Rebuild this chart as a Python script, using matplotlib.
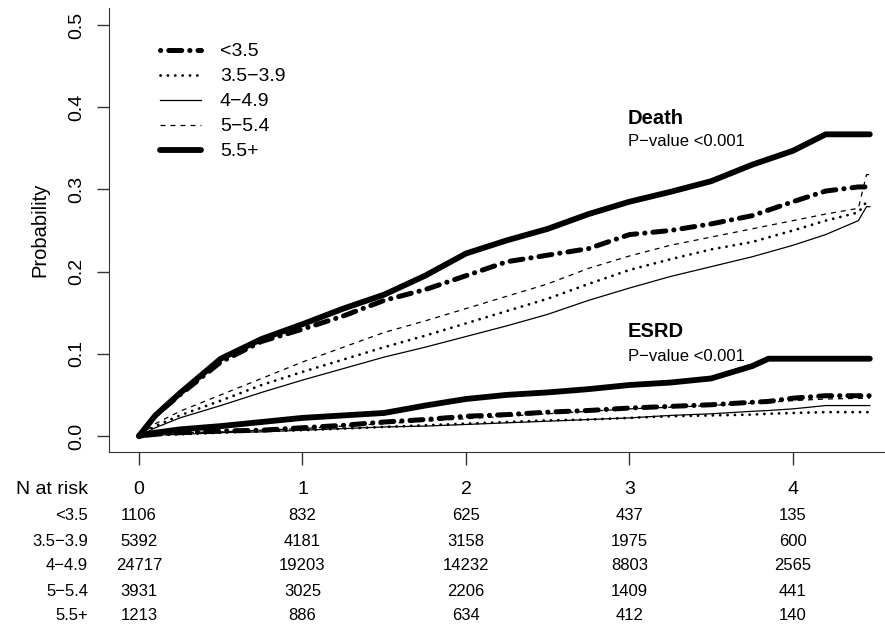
import matplotlib
matplotlib.use('Agg')
import matplotlib.pyplot as plt
import matplotlib.transforms as mtransforms

plt.rcParams['font.family'] = ['Liberation Sans', 'DejaVu Sans']

groups = ['<3.5', '3.5\u22123.9', '4\u22124.9', '5\u22125.4', '5.5+']

# cumulative incidence of death
t_death = [0, 0.1, 0.25, 0.5, 0.75, 1.0, 1.25, 1.5, 1.75, 2.0, 2.25, 2.5,
           2.75, 3.0, 3.25, 3.5, 3.75, 4.0, 4.2, 4.4, 4.45, 4.47]
death = {
    '<3.5':   [0, 0.025, 0.050, 0.090, 0.115, 0.130, 0.146, 0.165, 0.178, 0.195, 0.212, 0.220,
               0.228, 0.245, 0.250, 0.258, 0.268, 0.285, 0.298, 0.303, 0.303, 0.303],
    '3.5\u22123.9': [0, 0.012, 0.025, 0.043, 0.062, 0.078, 0.093, 0.108, 0.122, 0.137, 0.152, 0.167,
               0.185, 0.202, 0.215, 0.227, 0.236, 0.250, 0.262, 0.272, 0.285, 0.285],
    '4\u22124.9': [0, 0.010, 0.022, 0.037, 0.053, 0.068, 0.082, 0.096, 0.108, 0.121, 0.134, 0.148,
               0.165, 0.180, 0.194, 0.206, 0.218, 0.232, 0.245, 0.262, 0.279, 0.279],
    '5\u22125.4': [0, 0.015, 0.030, 0.050, 0.070, 0.090, 0.108, 0.126, 0.140, 0.155, 0.170, 0.185,
               0.204, 0.219, 0.232, 0.242, 0.252, 0.262, 0.270, 0.277, 0.318, 0.318],
    '5.5+':   [0, 0.025, 0.052, 0.094, 0.118, 0.136, 0.155, 0.172, 0.195, 0.222, 0.238, 0.252,
               0.270, 0.285, 0.297, 0.310, 0.330, 0.347, 0.367, 0.367, 0.367, 0.367],
}

# cumulative incidence of ESRD
t_esrd = [0, 0.1, 0.25, 0.5, 0.75, 1.0, 1.25, 1.5, 1.75, 2.0, 2.25, 2.5,
          2.75, 3.0, 3.25, 3.5, 3.75, 3.85, 4.0, 4.2, 4.47]
esrd = {
    '<3.5':   [0, 0.002, 0.004, 0.006, 0.007, 0.010, 0.013, 0.017, 0.020, 0.024, 0.026, 0.029,
               0.031, 0.034, 0.036, 0.038, 0.041, 0.042, 0.046, 0.049, 0.049],
    '3.5\u22123.9': [0, 0.001, 0.002, 0.004, 0.006, 0.007, 0.009, 0.011, 0.013, 0.015, 0.017, 0.019,
               0.020, 0.022, 0.024, 0.025, 0.026, 0.027, 0.028, 0.029, 0.029],
    '4\u22124.9': [0, 0.001, 0.002, 0.004, 0.005, 0.007, 0.009, 0.011, 0.012, 0.014, 0.016, 0.018,
               0.020, 0.022, 0.025, 0.027, 0.030, 0.031, 0.033, 0.037, 0.037],
    '5\u22125.4': [0, 0.002, 0.004, 0.005, 0.007, 0.009, 0.012, 0.015, 0.018, 0.021, 0.024, 0.027,
               0.030, 0.033, 0.035, 0.037, 0.040, 0.041, 0.043, 0.045, 0.046],
    '5.5+':   [0, 0.004, 0.008, 0.012, 0.017, 0.022, 0.025, 0.028, 0.037, 0.045, 0.050, 0.053,
               0.057, 0.062, 0.065, 0.070, 0.085, 0.094, 0.094, 0.094, 0.094],
}

risk_times = [0, 1, 2, 3, 4]
n_at_risk = {
    '<3.5':   [1106, 832, 625, 437, 135],
    '3.5\u22123.9': [5392, 4181, 3158, 1975, 600],
    '4\u22124.9': [24717, 19203, 14232, 8803, 2565],
    '5\u22125.4': [3931, 3025, 2206, 1409, 441],
    '5.5+':   [1213, 886, 634, 412, 140],
}

styles = {
    '<3.5':   dict(lw=3.6, ls=(0, (0.05, 1.6, 2.6, 1.6)), dash_capstyle='round'),
    '3.5\u22123.9': dict(lw=2.0, ls=(0, (0.05, 2.6)), dash_capstyle='round'),
    '4\u22124.9': dict(lw=0.9, ls='-'),
    '5\u22125.4': dict(lw=0.9, ls=(0, (4, 4))),
    '5.5+':   dict(lw=4.2, ls='-', solid_capstyle='round'),
}

fig = plt.figure(figsize=(8.85, 6.29), dpi=100)
ax = fig.add_axes([109 / 885, 177 / 629, 776 / 885, 444 / 629])

for g in groups:
    ax.plot(t_death, death[g], color='black', label=g, **styles[g])
    ax.plot(t_esrd, esrd[g], color='black', **styles[g])

ax.set_xlim(-0.1835, 4.563)
ax.set_ylim(-0.0195, 0.5207)
ax.set_yticks([0, 0.1, 0.2, 0.3, 0.4, 0.5])
ax.set_yticklabels(['0.0', '0.1', '0.2', '0.3', '0.4', '0.5'], rotation=90, va='center', fontsize=14)
ax.set_xticks(risk_times)
ax.set_xticklabels([])
ax.tick_params(length=9, width=1, color='#333333', pad=8)
for s in ['top', 'right']:
    ax.spines[s].set_visible(False)
for s in ['left', 'bottom']:
    ax.spines[s].set_color('#333333')
ax.set_ylabel('Probability', fontsize=14.5, labelpad=14)

leg = ax.legend(loc='upper left', bbox_to_anchor=(150 / 885, 1 - 33 / 629),
                bbox_transform=fig.transFigure, frameon=False, fontsize=14,
                handlelength=2.1, handletextpad=1.0, labelspacing=0.38, borderpad=0)

ax.text(2.99, 0.386, 'Death', fontsize=14.5, fontweight='bold', va='center')
ax.text(2.99, 0.358, 'P\u2212value <0.001', fontsize=12, va='center')
ax.text(2.99, 0.127, 'ESRD', fontsize=14.5, fontweight='bold', va='center')
ax.text(2.99, 0.097, 'P\u2212value <0.001', fontsize=12, va='center')

# numbers at risk table under the axis
trans = mtransforms.blended_transform_factory(ax.transData, fig.transFigure)
lab_x = 88 / 885
fig.text(lab_x, 1 - 490 / 629, 'N at risk', fontsize=14, ha='right', va='center')
for t in risk_times:
    ax.text(t, 1 - 490 / 629, str(t), fontsize=14, ha='center', va='center', transform=trans)
row_y = [516, 541, 566, 591, 616]
for g, yy in zip(groups, row_y):
    fig.text(lab_x, 1 - yy / 629, g, fontsize=12, ha='right', va='center')
    for t, n in zip(risk_times, n_at_risk[g]):
        ax.text(t, 1 - yy / 629, str(n), fontsize=12, ha='center', va='center', transform=trans)

fig.savefig('out.png', dpi=100)
